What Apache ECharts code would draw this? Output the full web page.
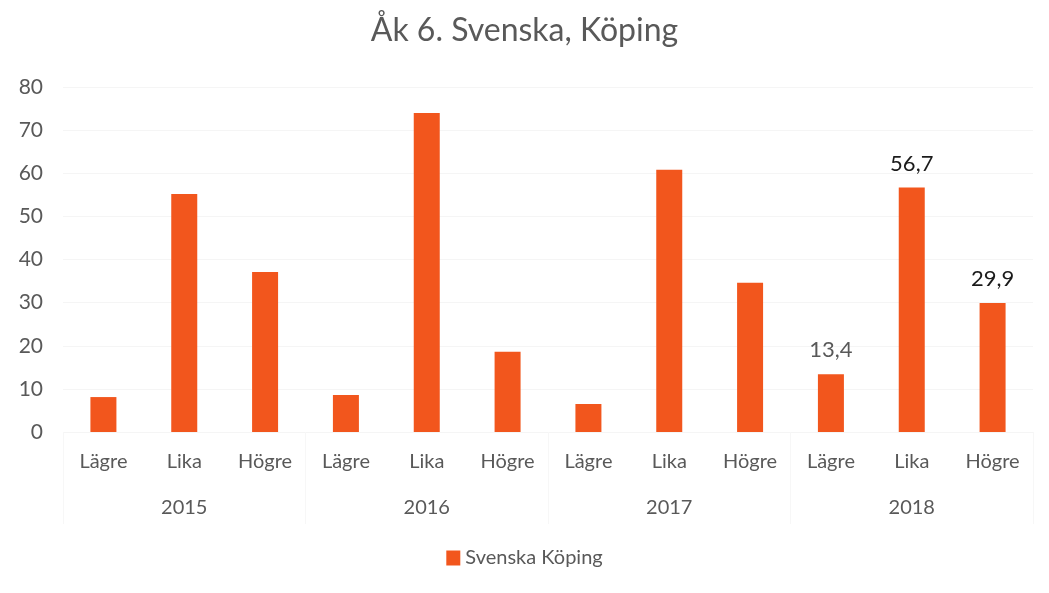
<!DOCTYPE html>
<html>
<head>
<meta charset="utf-8">
<script src="https://cdn.jsdelivr.net/npm/echarts@6/dist/echarts.min.js"></script>
<style>
    html, body { margin: 0; padding: 0; background: #fff; }
    #chart { width: 1049px; height: 593px; }
</style>
</head>
<body>
<div id="chart"></div>
<script>
var years = ['2015', '2016', '2017', '2018'];
var levels = ['Lägre', 'Lika', 'Högre'];
var values = [8.1, 55.2, 37.1, 8.6, 74.0, 18.6, 6.5, 60.8, 34.6, 13.4, 56.7, 29.9];
var shownLabels = [9, 10, 11]; // bara 2018 har etiketter
var seriesName = 'Svenska Köping';

var categories = [];
for (var y = 0; y < years.length; y++) {
    for (var l = 0; l < levels.length; l++) {
        categories.push(levels[l]);
    }
}

var textColor = '#595959';
var barData = [];
for (var i = 0; i < values.length; i++) {
    var item = {value: values[i]};
    if (shownLabels.indexOf(i) >= 0) {
        item.label = {
            show: true,
            position: 'top',
            distance: 13,
            fontSize: 22,
            color: i == 9 ? textColor : '#1a1a1a',
            formatter: function (p) { return String(p.value).replace('.', ','); }
        };
    }
    barData.push(item);
}

var chart = echarts.init(document.getElementById('chart'));
var option = {
    textStyle: {fontFamily: 'Lato, "Open Sans", sans-serif'},
    title: {
        text: 'Åk 6. Svenska, Köping',
        left: 'center',
        top: 10,
        textStyle: {fontSize: 32, fontWeight: 'normal', color: textColor, fontFamily: 'Lato, sans-serif'}
    },
    legend: {
        bottom: 20,
        itemWidth: 14,
        itemHeight: 15,
        icon: 'rect',
        textStyle: {fontSize: 20, color: textColor},
        data: [seriesName]
    },
    grid: {left: 63, right: 16, top: 87, bottom: 161},
    xAxis: [
        {
            type: 'category',
            data: categories,
            axisLine: {show: false},
            axisTick: {show: false},
            axisLabel: {fontSize: 20, color: textColor, margin: 20, interval: 0}
        },
        {
            type: 'category',
            position: 'bottom',
            data: years,
            axisLine: {show: false},
            axisTick: {show: true, length: 92, lineStyle: {color: '#f7f7f7'}},
            axisLabel: {fontSize: 20, color: textColor, margin: 66}
        }
    ],
    yAxis: {
        type: 'value',
        min: 0,
        max: 80,
        interval: 10,
        axisLine: {show: false},
        axisTick: {show: false},
        axisLabel: {fontSize: 21, color: textColor, margin: 20},
        splitLine: {lineStyle: {color: '#f5f5f5'}}
    },
    series: [
        {
            name: seriesName,
            type: 'bar',
            xAxisIndex: 0,
            data: barData,
            barWidth: 26,
            itemStyle: {color: '#f2561d'}
        }
    ]
};
chart.setOption(option);
</script>
</body>
</html>
